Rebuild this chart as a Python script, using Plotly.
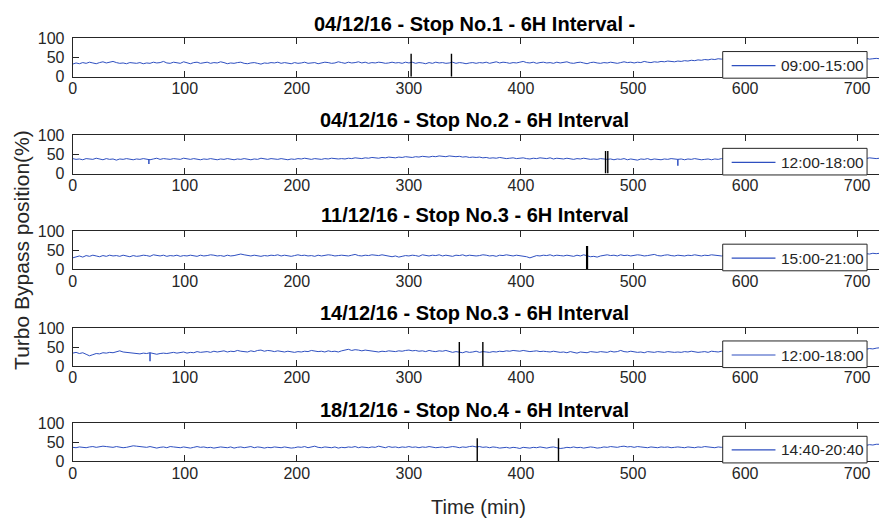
import plotly.graph_objects as go

# ---------------- data ----------------
time_min = list(range(0, 721, 3))  # 241 samples, 3-minute grid

s1 = [33,36,34,37,35,38,36,34,37,39,36,38,40,37,35,36,34,37,36,35,
      37,34,36,35,38,36,37,40,36,35,38,37,35,39,36,34,37,38,35,36,
      38,35,37,36,39,37,34,36,35,37,38,35,34,36,37,35,33,36,35,37,
      36,38,35,37,36,34,37,35,36,38,35,36,37,34,36,38,37,35,36,39,
      37,35,38,36,37,39,36,38,35,37,36,38,37,35,36,38,36,37,35,38,
      36,38,35,37,36,34,37,35,38,36,37,35,36,38,35,37,36,34,36,37,
      35,37,36,38,35,37,39,36,38,37,35,37,36,38,40,37,36,38,35,37,
      38,36,37,35,38,36,37,39,36,35,37,38,36,34,37,38,36,35,37,36,
      38,36,35,37,39,37,38,36,38,37,40,38,37,39,38,40,39,41,40,39,
      41,40,42,41,43,42,44,43,45,44,46,45,47,46,48,47,46,48,47,48,
      47,46,48,47,45,47,48,46,47,48,46,47,45,47,48,46,47,48,46,47,
      48,47,46,48,47,46,48,47,49,47,46,48,47,46,48,47,48,46,47,48,
      47]

s2 = [39,37,38,36,39,38,37,40,38,36,39,37,38,35,38,37,39,38,36,38,
      37,39,38,36,38,40,37,39,38,37,39,38,37,40,38,37,39,38,36,38,
      37,39,38,36,38,37,39,37,36,38,37,39,38,36,38,37,40,38,37,39,
      38,37,39,38,36,38,37,39,38,40,38,37,39,38,37,39,38,40,39,38,
      39,38,40,39,41,40,39,41,40,42,41,40,42,41,43,42,41,43,42,44,
      43,42,44,43,45,44,43,45,44,46,45,44,46,45,44,45,43,44,42,43,
      42,43,41,42,40,41,40,42,41,39,40,41,39,40,41,39,38,40,39,41,
      40,39,41,38,40,39,38,40,39,37,39,38,40,39,37,38,37,39,38,37,
      38,36,38,37,39,36,38,37,35,38,37,39,36,38,37,36,38,37,39,38,
      37,38,36,38,37,39,38,36,37,38,36,38,37,39,38,37,36,38,37,38,
      38,37,39,38,36,38,37,39,38,37,36,38,37,39,38,36,37,38,39,37,
      38,39,37,38,40,38,37,39,38,40,39,38,40,39,41,40,39,41,40,39,
      40]

s3 = [30,33,35,32,36,34,37,35,33,36,34,37,35,36,34,37,35,33,36,34,
      35,37,36,34,38,36,35,37,34,36,35,37,34,36,35,37,36,34,37,35,
      36,38,37,35,36,34,37,35,36,38,40,38,36,35,37,35,34,36,35,37,
      36,38,35,37,36,34,36,38,36,37,35,36,34,37,35,36,38,37,35,36,
      37,36,35,37,39,36,35,37,36,38,37,36,38,37,35,33,35,32,34,36,
      35,37,36,34,38,36,35,37,36,38,35,37,36,34,37,36,38,35,37,36,
      35,36,38,37,35,36,34,37,36,38,36,35,37,36,34,33,30,34,36,35,
      37,36,38,35,37,36,35,37,36,34,37,35,38,36,33,34,32,35,36,38,
      36,37,35,38,36,37,35,36,38,37,35,36,37,39,36,35,37,38,36,35,
      37,36,35,37,36,38,36,35,37,36,38,37,36,35,37,36,38,37,36,35,
      36,37,35,36,38,37,35,36,37,38,36,35,37,36,38,37,36,35,37,36,
      37,38,36,37,39,38,37,40,38,39,41,40,39,41,40,42,41,40,42,41,
      42]

s4 = [34,36,33,35,31,27,30,33,32,35,34,36,35,38,40,37,36,35,34,33,
      32,34,33,35,33,31,33,34,33,35,36,34,35,37,34,36,35,38,36,37,
      38,36,39,37,38,40,37,39,38,41,39,38,37,40,38,41,42,39,41,40,
      38,40,39,37,39,38,36,38,37,39,38,41,40,38,39,37,40,38,39,37,
      40,42,44,41,43,42,40,42,41,39,38,37,39,38,40,39,38,40,39,41,
      42,40,41,39,40,38,41,39,38,40,39,41,38,36,38,37,35,38,36,37,
      39,36,38,37,36,38,37,39,38,40,39,41,40,39,41,40,38,39,40,38,
      39,38,37,39,38,36,37,35,38,36,34,37,36,35,38,37,36,38,37,36,
      39,37,38,41,38,37,39,38,36,37,35,38,37,36,38,37,36,38,37,36,
      37,36,38,37,39,38,36,37,38,36,39,38,37,39,36,38,37,40,38,37,
      38,37,39,38,36,38,37,39,38,37,40,38,37,39,38,36,38,37,39,38,
      39,38,40,39,41,40,42,41,43,42,41,43,42,44,43,45,44,46,45,47,
      48]

s5 = [37,36,38,37,36,38,39,37,38,40,39,38,37,39,38,36,37,39,41,40,
      39,38,37,39,36,35,37,38,36,39,38,37,36,38,36,35,37,39,37,38,
      36,37,35,36,38,37,36,38,35,37,38,36,37,39,36,38,37,35,37,36,
      38,37,36,38,37,35,36,38,37,39,36,38,40,37,36,38,37,36,38,35,
      37,36,38,37,39,36,38,37,36,38,37,40,38,36,39,37,38,36,38,37,
      39,37,38,36,38,37,39,38,36,37,38,36,37,39,38,36,38,37,39,40,
      38,39,37,38,36,38,37,35,36,37,35,37,36,34,37,36,35,37,36,38,
      36,35,37,38,36,34,35,37,36,38,36,37,35,36,38,37,35,36,38,37,
      39,38,37,39,40,38,39,37,39,38,37,36,38,37,36,38,37,38,36,37,
      38,37,36,38,37,36,38,37,39,38,37,36,38,37,38,36,37,38,37,38,
      37,38,36,38,37,39,38,36,37,38,36,38,37,39,38,37,36,38,37,38,
      39,38,40,39,41,40,39,41,42,41,43,42,41,43,44,43,42,44,43,45,
      45]

series = [s1, s2, s3, s4, s5]

titles = ["04/12/16 - Stop No.1 - 6H Interval -",
          "04/12/16 - Stop No.2 - 6H Interval",
          "11/12/16 - Stop No.3 - 6H Interval",
          "14/12/16 - Stop No.3 - 6H Interval",
          "18/12/16 - Stop No.4 - 6H Interval"]
intervals = ["09:00-15:00", "12:00-18:00", "15:00-21:00", "12:00-18:00", "14:40-20:40"]

# stop markers (time in min, marker height in %)
stop_times = [[302, 338], [475.5, 477.5], [459], [345, 366], [361, 433.5]]
stop_tops = [[60, 60], [59, 59], [61], [63, 63], [61, 61]]

# short sharp dips in the signal (time, low value, base value)
dip_times = [[], [68, 540], [], [69], []]
dip_lows = [[], [25, 20], [], [13], []]
dip_bases = [[], [37, 37], [], [35], []]

x_ticks = [0, 100, 200, 300, 400, 500, 600, 700]
y_ticks = [0, 50, 100]

# ---------------- layout geometry (pixels) ----------------
W, H = 879, 530
plot_left = 69
tops = [31.5, 131.5, 230.5, 330.5, 429]
plot_h = 39.5
title_y = [16.5, 116, 214, 315, 415]

BLUE = "#2E4FC0"
INK = "#262626"
FONT = "Liberation Sans, Arial, sans-serif"


def px_x(p):
    return p / W


def px_y(p):
    return 1 - p / H


fig = go.Figure()
for k in range(5):
    sfx = "" if k == 0 else str(k + 1)
    xa, ya = "x" + sfx, "y" + sfx
    fig.add_trace(go.Scatter(x=time_min, y=series[k], mode="lines",
                             line=dict(color=BLUE, width=1),
                             name=intervals[k], xaxis=xa, yaxis=ya, showlegend=False))
    if dip_times[k]:
        dx, dy = [], []
        for t0, lo, b in zip(dip_times[k], dip_lows[k], dip_bases[k]):
            dx += [t0, t0, None]
            dy += [b, lo, None]
        fig.add_trace(go.Scatter(x=dx, y=dy, mode="lines", line=dict(color=BLUE, width=1.5),
                                 xaxis=xa, yaxis=ya, showlegend=False, hoverinfo="skip"))
    sx, sy = [], []
    for t0, top in zip(stop_times[k], stop_tops[k]):
        sx += [t0, t0, None]
        sy += [0, top, None]
    fig.add_trace(go.Scatter(x=sx, y=sy, mode="lines",
                             line=dict(color="black", width=2.2 if k == 2 else 1.4),
                             xaxis=xa, yaxis=ya, showlegend=False, hoverinfo="skip"))

    top = tops[k]
    bot = tops[k] + plot_h
    fig.layout["xaxis" + sfx] = dict(
        domain=[plot_left / W, 1], range=[0, 719.5], anchor=ya,
        tickvals=x_ticks, ticks="inside", ticklen=6, tickcolor=INK,
        showline=True, linecolor=INK, linewidth=1, mirror="ticks",
        showgrid=False, zeroline=False, ticklabelstandoff=-3,
        tickfont=dict(size=16, color=INK, family=FONT))
    fig.layout["yaxis" + sfx] = dict(
        domain=[px_y(bot), px_y(top)], range=[0, 100], anchor=xa,
        tickvals=y_ticks, ticks="inside", ticklen=6, tickcolor=INK,
        showline=True, linecolor=INK, linewidth=1, mirror=False,
        showgrid=False, zeroline=False, ticklabelstandoff=4,
        tickfont=dict(size=16, color=INK, family=FONT))

    # legend box (drawn by hand so that each panel has its own)
    lt, lb = top + 13.5, bot + 1.5
    fig.add_shape(type="rect", xref="paper", yref="paper",
                  x0=px_x(722), x1=px_x(867), y0=px_y(lb), y1=px_y(lt),
                  fillcolor="white", line=dict(color=INK, width=1), layer="above")
    ym = round((lt + lb) / 2) + 0.5
    fig.add_shape(type="line", xref="paper", yref="paper",
                  x0=px_x(731), x1=px_x(775), y0=px_y(ym), y1=px_y(ym),
                  line=dict(color=BLUE, width=1.2), layer="above")
    fig.add_annotation(text=intervals[k], xref="paper", yref="paper",
                       x=px_x(779), y=px_y(ym), xanchor="left", yanchor="middle",
                       showarrow=False, font=dict(size=15.5, color=INK, family=FONT))

    fig.add_annotation(text="<b>" + titles[k] + "</b>", xref="paper", yref="paper",
                       x=px_x(473), y=px_y(title_y[k]), xanchor="center", yanchor="middle",
                       showarrow=False, font=dict(size=20, color="black", family=FONT))

fig.add_annotation(text="Turbo Bypass position(%)", xref="paper", yref="paper",
                   x=px_x(18), y=px_y(250), xanchor="center", yanchor="middle",
                   textangle=-90, showarrow=False,
                   font=dict(size=21, color=INK, family=FONT))
fig.add_annotation(text="Time (min)", xref="paper", yref="paper",
                   x=px_x(477), y=px_y(516), xanchor="center", yanchor="middle",
                   showarrow=False, font=dict(size=20, color=INK, family=FONT))

fig.update_layout(width=W, height=H, margin=dict(l=0, r=0, t=0, b=0),
                  paper_bgcolor="white", plot_bgcolor="white", showlegend=False,
                  font=dict(family=FONT, color=INK))

fig.write_html("out.html")
